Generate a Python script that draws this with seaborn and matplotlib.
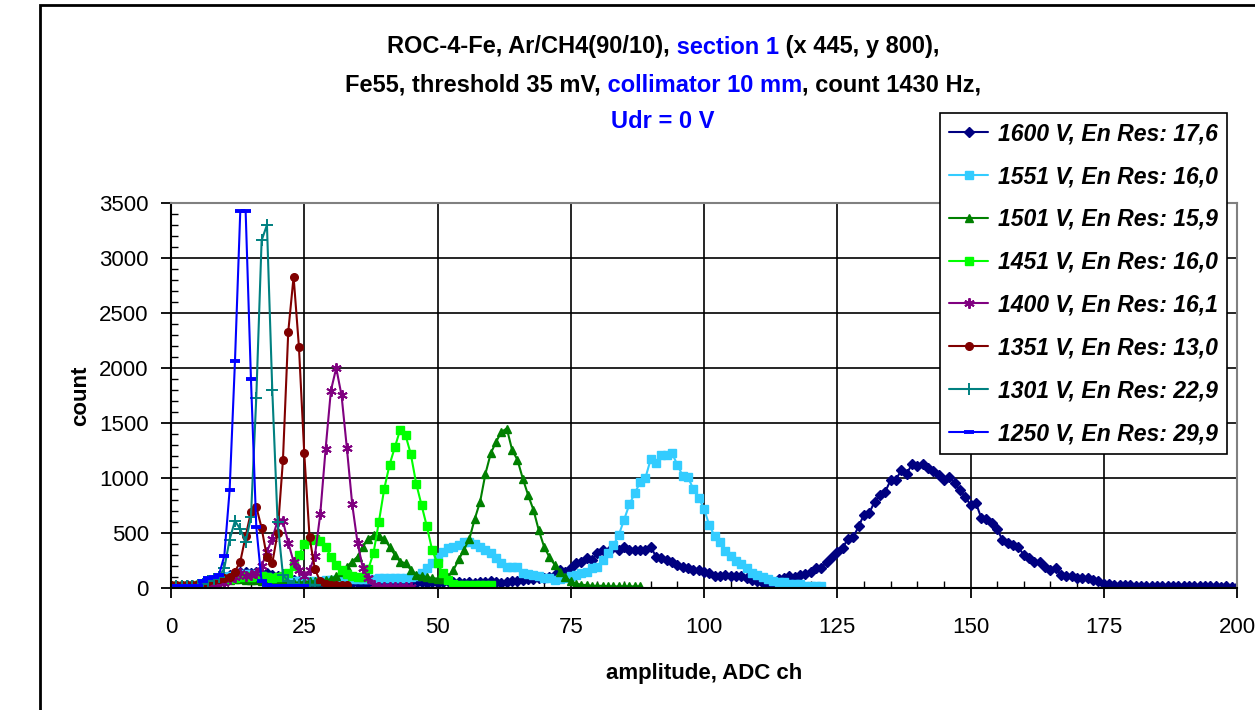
import numpy as np
import matplotlib
matplotlib.use("Agg")
import matplotlib.pyplot as plt
import seaborn as sns
from matplotlib.ticker import MultipleLocator
from matplotlib.patches import Rectangle

# ---- data (count per ADC channel) ----
v1600 = [20, 20, 20, 25, 25, 30, 40, 60, 80, 90, 100,
         120, 140, 150, 150, 140, 150, 130, 140, 120, 110, 100, 90,
         70, 60, 55, 50, 50, 50, 50, 50, 50, 50, 50, 50, 50, 50, 50, 50, 50, 50, 50, 50, 55, 50, 55, 50, 55, 50, 55, 50,
         55, 60, 55, 55, 50, 55, 50, 55, 55, 60, 55, 50, 55, 60, 60,
         70, 85, 85, 90, 95, 100, 120, 165, 150, 180, 225, 240, 270, 255, 315,
         345, 330, 375, 345, 375, 345, 345, 345, 345, 375, 285,
         270, 255, 240, 210, 190, 180, 165, 165, 150, 135,
         105, 110, 115, 105, 105, 105, 90, 75, 60, 50, 45, 40,
         80, 90, 105, 100, 120, 125, 150, 180, 180, 240, 285, 330,
         360, 450, 460, 560, 665, 680, 785, 845, 875, 980, 985, 1070, 1035, 1125, 1110,
         1130, 1095, 1060, 1030, 980, 1010, 955, 890, 830, 755, 775, 640, 625, 590, 535,
         435, 405, 390, 370, 300, 270, 240, 240, 195, 165, 180, 120, 105, 105, 90,
         90, 90, 75, 60, 40, 40, 30, 25, 25, 25, 20, 20, 20, 15, 15,
         20, 15, 15, 15, 15, 15, 15, 15, 15, 15, 15, 10, 15, 10, 10]
v1551 = [10, 10, 10, 10, 15, 20, 30, 50, 70, 90, 100,
         110, 120, 130, 130, 130, 120, 110, 100, 90, 80,
         70, 65, 60, 60, 60, 60, 60, 65, 70, 70,
         75, 75, 80, 80, 80, 85, 85, 85, 90, 90, 90, 90, 95, 95, 100, 110,
         140, 180, 230, 285, 330, 360, 375, 390, 415, 420, 400, 375, 345, 315,
         270, 225, 195, 195, 195, 135, 125, 120, 105, 90, 90, 75, 85, 90, 105,
         120, 135, 150, 180, 195, 255, 320, 390, 480, 620, 760, 860, 960, 1000, 1170,
         1140, 1205, 1205, 1225, 1120, 1020, 1005, 900, 820, 720, 570, 470, 420, 340, 290,
         250, 215, 180, 140, 120, 100, 85, 60, 55, 55, 40, 40, 35, 20, 20, 20, 20]
v1501 = [10, 10, 10, 10, 15, 20, 30, 40, 50, 60, 70,
         70, 80, 80, 70, 70, 70, 65, 60, 60, 55,
         55, 50, 50, 50, 55, 60, 60, 65, 70, 80, 110, 150,
         195, 240, 285, 375, 450, 480, 470, 450, 375, 300, 240, 225, 165, 120, 110,
         100, 90, 85, 85, 100, 165, 260, 350, 450, 630, 785, 1040, 1225, 1330, 1420,
         1450, 1255, 1165, 995, 845, 710, 525, 375, 280, 210, 150, 100, 60, 40, 30,
         25, 20, 20, 20, 15, 15, 15, 15, 15, 15, 15]
v1451 = [15, 15, 15, 15, 20, 25, 35, 45, 55, 65, 75,
         80, 90, 100, 105, 100, 105, 110, 100, 95, 100, 110, 140, 200,
         300, 400, 440, 450, 430, 375, 285, 210, 165, 130, 110, 100, 100,
         170, 320, 600, 900, 1120, 1280, 1440, 1390, 1215, 950, 755, 560, 345, 225, 135, 70,
         40, 30, 25, 25, 25, 25, 25, 25]
v1400 = [0, 0, 0, 0, 0, 0, 5, 5, 10,
         20, 50, 80, 100, 135, 110, 120, 140,
         200, 330, 450, 610, 610, 410, 240, 160, 110, 160, 295, 670, 1260, 1795,
         2000, 1750, 1270, 760, 410, 180, 90, 30, 10, 5, 5, 5, 5, 5, 5]
v1351 = [30, 30, 30, 30, 30, 40, 50, 60, 70, 80, 90,
         100, 150, 240, 470, 690, 740, 545, 280, 225, 500,
         1160, 2330, 2830, 2195, 1225, 460, 170, 60, 40, 30, 30, 30, 30]
v1301 = [20, 20, 20, 20, 20, 30, 40, 60, 80, 100,
         180, 440, 610, 535, 420, 645, 1730, 3160, 3300, 1800, 600, 120,
         60, 40, 30, 30, 30, 30]
v1250 = [20, 15, 15, 15, 15, 20, 60, 90, 100, 120,
         290, 890, 2060, 3430, 3430, 1900, 555, 60,
         30, 20, 20, 15, 15, 15, 15, 15]

labels = ["1600 V, En Res: 17,6", "1551 V, En Res: 16,0", "1501 V, En Res: 15,9",
          "1451 V, En Res: 16,0", "1400 V, En Res: 16,1", "1351 V, En Res: 13,0",
          "1301 V, En Res: 22,9", "1250 V, En Res: 29,9"]
values = [v1600, v1551, v1501, v1451, v1400, v1351, v1301, v1250]
colors = ["#000080", "#33CCFF", "#008000", "#00FF00", "#800080", "#800000", "#008080", "#0000FF"]
markers = ["D", "s", "^", "s", (6, 2, 0), "o", "+", "_"]
msizes = [5, 5.5, 6, 5.5, 7.5, 5.5, 8, 6.5]
mews = [1, 1, 1, 1, 1.4, 1, 1.4, 2.8]

sns.set_style("white")
plt.rcParams["font.family"] = ["Liberation Sans", "DejaVu Sans"]
plt.rcParams["text.color"] = "black"
plt.rcParams["axes.labelcolor"] = "black"
plt.rcParams["xtick.color"] = "black"
plt.rcParams["ytick.color"] = "black"

fig = plt.figure(figsize=(12.55, 7.1), dpi=100)
ax = fig.add_axes([171 / 1255, 122 / 710, 1066 / 1255, 385 / 710])

for lab, vals, col, mk, ms, mew in zip(labels, values, colors, markers, msizes, mews):
    ch = np.arange(len(vals))
    sns.lineplot(x=ch, y=vals, ax=ax, color=col, marker=mk, markersize=ms,
                 markeredgewidth=mew, markeredgecolor=col, linewidth=1.5,
                 label=lab, errorbar=None, sort=False)

ax.set_xlim(0, 200)
ax.set_ylim(0, 3500)
ax.xaxis.set_major_locator(MultipleLocator(25))
ax.xaxis.set_minor_locator(MultipleLocator(5))
ax.yaxis.set_major_locator(MultipleLocator(500))
ax.yaxis.set_minor_locator(MultipleLocator(100))
ax.grid(True, which="major", color="black", linewidth=1.2)
ax.tick_params(which="major", direction="out", length=7, width=1.3, labelsize=16,
               color="black", labelcolor="black", left=True, bottom=True)
ax.tick_params(which="minor", direction="in", length=5, width=1.0, color="black",
               left=True, bottom=True)
ax.tick_params(axis="y", which="major", pad=9)
ax.tick_params(axis="x", which="major", pad=14)
for side in ["left", "bottom"]:
    ax.spines[side].set_color("black")
    ax.spines[side].set_linewidth(1.5)
for side in ["top", "right"]:
    ax.spines[side].set_color("#808080")
    ax.spines[side].set_linewidth(1.5)

ax.set_xlabel("amplitude, ADC ch", fontsize=16, fontweight="bold", color="black")
ax.set_ylabel("count", fontsize=16, fontweight="bold", color="black")
ax.xaxis.set_label_coords(0.5, -0.195)
ax.yaxis.set_label_coords(-0.075, 0.5)

handles, labs = ax.get_legend_handles_labels()
if ax.get_legend() is not None:
    ax.get_legend().remove()
leg = fig.legend(handles, labs, loc="upper left", bbox_to_anchor=(940 / 1255, 1 - 113 / 710),
                 frameon=True, fancybox=False, edgecolor="black", framealpha=1,
                 prop=dict(family=["Liberation Sans", "DejaVu Sans"], weight="bold", style="italic", size=16.6),
                 handlelength=1.7, handletextpad=0.4, labelspacing=0.86,
                 borderpad=0.4, borderaxespad=0)
leg.get_frame().set_linewidth(1.2)
for t in leg.get_texts():
    t.set_color("black")

# outer chart frame
fig.patches.append(Rectangle((40 / 1255, -0.1), 1.0, 1.1 - 5 / 710, transform=fig.transFigure,
                             fill=False, edgecolor="black", linewidth=2))

# title, partly blue
blue = "#0000FF"
title_lines = [
    (1 - 47 / 710, [("ROC-4-Fe, Ar/CH4(90/10),", "black"), (" section 1", blue), (" (x 445, y 800),", "black")]),
    (1 - 85 / 710, [("Fe55, threshold 35 mV,", "black"), (" collimator 10 mm", blue), (", count 1430 Hz,", "black")]),
    (1 - 122 / 710, [("Udr = 0 V", blue)]),
]
pieces = []
for y, parts in title_lines:
    first = fig.text(0.5, y, parts[0][0], color=parts[0][1], fontsize=17, fontweight="bold",
                     ha="left", va="center")
    prev = first
    for txt, col in parts[1:]:
        prev = ax.annotate(txt, xy=(1, 0), xycoords=prev, color=col, fontsize=17,
                           fontweight="bold", ha="left", va="bottom", annotation_clip=False)
    pieces.append((first, prev))

fig.canvas.draw()
r = fig.canvas.get_renderer()
xc = 663
for first, last in pieces:
    x0 = first.get_window_extent(r).x0
    x1 = last.get_window_extent(r).x1
    w = x1 - x0
    first.set_x((xc - w / 2) / fig.bbox.width)

fig.savefig("out.png", dpi=100)
